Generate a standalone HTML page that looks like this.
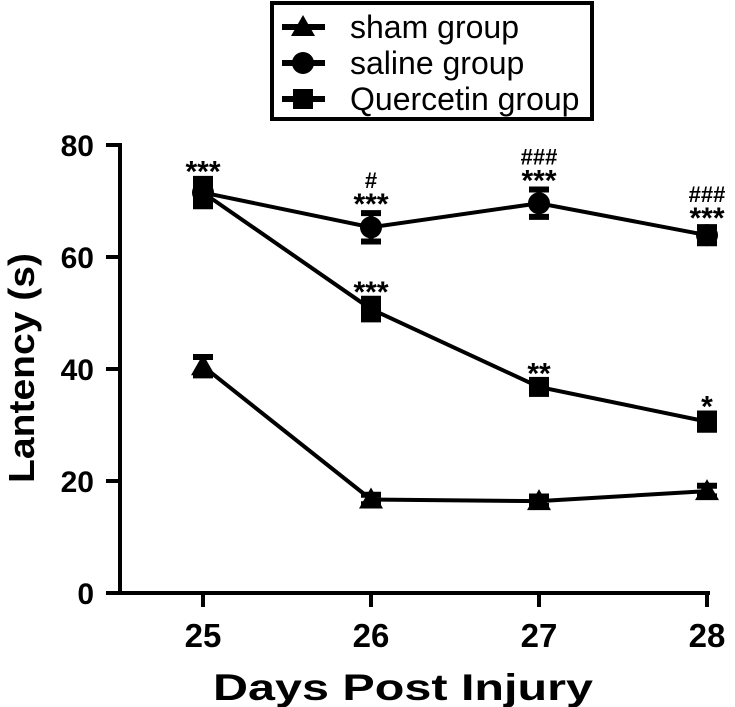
<!DOCTYPE html>
<html><head><meta charset="utf-8"><style>
html,body{margin:0;padding:0;background:#fff}
svg{display:block;font-family:"Liberation Sans",Arial,sans-serif;font-weight:bold}
</style></head><body>
<svg id="chart" width="735" height="707" viewBox="0 0 735 707" xmlns="http://www.w3.org/2000/svg">
<g>
<rect x="272" y="3" width="320" height="116" fill="#fff" stroke="#000" stroke-width="4"/>
</g>
<g id="axes"></g>
<g id="marks"></g>
</svg>
<script>
const days = [25, 26, 27, 28];
const yTicks = [0, 20, 40, 60, 80];
const shamValues = [40.5, 16.7, 16.4, 18.2];
const shamErr = [2.0, 1.2, 1.2, 1.3];
const salineValues = [71.5, 65.3, 69.6, 63.9];
const salineErr = [2.5, 2.9, 2.8, 1.8];
const quercetinValues = [71.5, 50.7, 36.8, 30.6];
const quercetinErr = [2.8, 2.2, 1.5, 1.8];
const starLabels = ["***", "***", "**", "*"];
const hashLabels = ["", "#", "###", "###"];
const legendLabels = ["sham group", "saline group", "Quercetin group"];

const NS = "http://www.w3.org/2000/svg";
function xs(d){ return 203 + (d - 25) * 168; }
function ys(v){ return 593 - v * 5.6; }
function mk(tag, attrs, parent){
  const e = document.createElementNS(NS, tag);
  for (const k in attrs) e.setAttribute(k, attrs[k]);
  parent.appendChild(e);
  return e;
}
const axes = document.getElementById('axes');
const marks = document.getElementById('marks');
const svg = document.getElementById('chart');

let yl = mk('line', {x1:120, y1:143, x2:120, y2:595, stroke:'#000','stroke-width':4}, axes);


let xl = mk('line', {x1:106, y1:593, x2:710, y2:593, stroke:'#000','stroke-width':4}, axes);


yTicks.forEach(v => {
  const y = ys(v);
  mk('line', {x1:106, y1:y, x2:120, y2:y, stroke:'#000','stroke-width':4}, axes);
  const t = mk('text', {x:94, y:y + 11, 'text-anchor':'end', 'font-size':30}, axes);
  t.textContent = v;
  
  
});
days.forEach(d => {
  const x = xs(d);
  mk('line', {x1:x, y1:593, x2:x, y2:607, stroke:'#000','stroke-width':4}, axes);
  const t = mk('text', {x:x, y:647, 'text-anchor':'middle', 'font-size':33}, axes);
  t.textContent = d;
  
  
});
let xt = mk('text', {x:403, y:700, 'text-anchor':'middle', 'font-size':37, textLength:380, lengthAdjust:'spacingAndGlyphs'}, axes);
xt.textContent = 'Days Post Injury';


let yt = mk('text', {x:0, y:0, 'text-anchor':'middle', 'font-size':36, textLength:230, lengthAdjust:'spacingAndGlyphs', transform:'translate(34,368) rotate(-90)'}, axes);
yt.textContent = 'Lantency (s)';



function marker(type, x, y, parent){
  if (type === 'tri') return mk('polygon', {points:`${x},${y-12} ${x+12},${y+9} ${x-12},${y+9}`, fill:'#000'}, parent);
  if (type === 'circ') return mk('circle', {cx:x, cy:y, r:11, fill:'#000'}, parent);
  return mk('rect', {x:x-10, y:y-10, width:20, height:20, fill:'#000'}, parent);
}
function series(name, vals, errs, type){
  const g = mk('g', {}, marks);
  
  
  const pts = vals.map((v,i) => xs(days[i]) + ',' + ys(v)).join(' ');
  const pl = mk('polyline', {points:pts, fill:'none', stroke:'#000', 'stroke-width':4}, g);
  
  
  vals.forEach((v,i) => {
    const x = xs(days[i]), yt = ys(v + errs[i]), yb = ys(v - errs[i]);
    mk('line', {x1:x, y1:yt, x2:x, y2:yb, stroke:'#000','stroke-width':5}, g);
    mk('line', {x1:x-10, y1:yt+2, x2:x+10, y2:yt+2, stroke:'#000','stroke-width':6}, g);
    mk('line', {x1:x-10, y1:yb-2, x2:x+10, y2:yb-2, stroke:'#000','stroke-width':6}, g);
    const m = marker(type, x, ys(v), g);
    
    
  });
}
series('sham', shamValues, shamErr, 'tri');
series('quercetin', quercetinValues, quercetinErr, 'sq');
series('saline', salineValues, salineErr, 'circ');

days.forEach((d,i) => {
  const x = xs(d);
  const salTop = salineValues[i] >= quercetinValues[i];
  const topV = salTop ? salineValues[i] + salineErr[i] : quercetinValues[i] + quercetinErr[i];
  const base = ys(topV) + 3;
  const s = mk('text', {x:x, y:base, 'text-anchor':'middle', 'font-size':30}, marks);
  s.textContent = i === 0 ? starLabels[0] : '***';
  
  
  if (i > 0) {
    const h = mk('text', {x:x, y:base - 26, 'text-anchor':'middle', 'font-size':22}, marks);
    h.textContent = hashLabels[i];
    
    
    const q = mk('text', {x:x, y:ys(quercetinValues[i] + quercetinErr[i]) + 5, 'text-anchor':'middle', 'font-size':30}, marks);
    q.textContent = starLabels[i];
    
    
  }
});

const types = ['tri','circ','sq'];
legendLabels.forEach((lab,i) => {
  const y = 27 + i * 36;
  const g = mk('g', {}, svg);
  
  
  mk('line', {x1:282, y1:y, x2:325, y2:y, stroke:'#000', 'stroke-width':6}, g);
  marker(types[i], 303, y, g);
  const t = mk('text', {x:350, y:y + 11, 'font-size':32, 'font-weight':'normal'}, g);
  t.textContent = lab;
});
</script>
</body></html>
